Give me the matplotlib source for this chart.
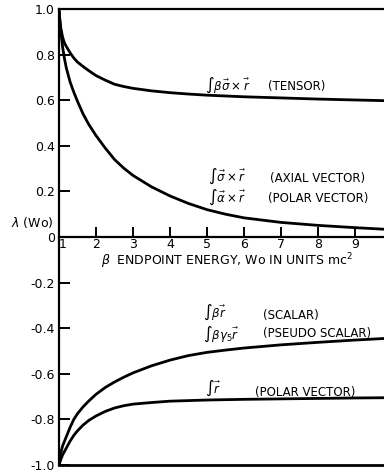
import matplotlib
matplotlib.use("Agg")
import matplotlib.pyplot as plt

# ---- data ----
w_tensor = [1.0, 1.02, 1.05, 1.1, 1.15, 1.2, 1.3, 1.4, 1.5, 1.65, 1.8, 2.0, 2.25, 2.5, 2.75, 3.0,
            3.5, 4.0, 4.5, 5.0, 6.0, 7.0, 8.0, 9.0, 9.8]
lam_tensor = [1.0, 0.955, 0.915, 0.875, 0.85, 0.835, 0.808, 0.785, 0.767, 0.748, 0.73, 0.708, 0.688,
              0.67, 0.66, 0.652, 0.641, 0.633, 0.627, 0.622, 0.615, 0.61, 0.605, 0.601, 0.598]

w_axial = [1.0, 1.02, 1.05, 1.1, 1.15, 1.2, 1.3, 1.4, 1.5, 1.65, 1.8, 2.0, 2.25, 2.5, 2.75, 3.0,
           3.5, 4.0, 4.5, 5.0, 5.5, 6.0, 7.0, 8.0, 9.0, 9.8]
lam_axial = [1.0, 0.955, 0.90, 0.83, 0.78, 0.74, 0.68, 0.635, 0.595, 0.54, 0.495, 0.445, 0.39,
             0.34, 0.302, 0.27, 0.22, 0.18, 0.147, 0.12, 0.1, 0.084, 0.064, 0.051, 0.041, 0.034]

w_scalar = [1.0, 1.02, 1.05, 1.1, 1.2, 1.3, 1.4, 1.5, 1.65, 1.8, 2.0, 2.25, 2.5, 2.75, 3.0,
            3.5, 4.0, 4.5, 5.0, 5.5, 6.0, 7.0, 8.0, 9.0, 9.8]
lam_scalar = [-1.0, -0.97, -0.945, -0.915, -0.875, -0.835, -0.8, -0.775, -0.745, -0.72, -0.69,
              -0.66, -0.636, -0.615, -0.596, -0.565, -0.54, -0.52, -0.506, -0.496, -0.487,
              -0.473, -0.462, -0.452, -0.445]

w_polar = [1.0, 1.05, 1.1, 1.2, 1.3, 1.4, 1.5, 1.65, 1.8, 2.0, 2.25, 2.5, 2.75, 3.0, 3.5, 4.0,
           5.0, 6.0, 7.0, 8.0, 9.0, 9.8]
lam_polar = [-1.0, -0.975, -0.955, -0.925, -0.895, -0.87, -0.85, -0.825, -0.805, -0.785, -0.765,
             -0.75, -0.74, -0.733, -0.726, -0.72, -0.715, -0.712, -0.71, -0.708, -0.706, -0.705]

x_ticks = [1, 2, 3, 4, 5, 6, 7, 8, 9]
x_ticklabels = ["1", "2", "3", "4", "5", "6", "7", "8", "9"]
y_ticks = [1.0, 0.8, 0.6, 0.4, 0.2, 0.0, -0.2, -0.4, -0.6, -0.8, -1.0]
y_ticklabels = ["1.0", "0.8", "0.6", "0.4", "0.2", "0", "-0.2", "-0.4", "-0.6", "-0.8", "-1.0"]

W, H = 384, 472
fig = plt.figure(figsize=(W / 100, H / 100), dpi=100)
ax = fig.add_axes([59 / W, 7 / H, (W - 59) / W, 456 / H])
ax.set_xlim(1.0, 1.0 + (W - 59) / 37.0)
ax.set_ylim(-1.0, 1.0)

lw = 2.0
for xs, ys in [(w_tensor, lam_tensor), (w_axial, lam_axial), (w_scalar, lam_scalar), (w_polar, lam_polar)]:
    ax.plot(xs, ys, color="black", lw=lw, solid_capstyle="round", solid_joinstyle="round")

# spines
ax.spines["right"].set_visible(False)
ax.spines["top"].set_linewidth(1.6)
ax.spines["left"].set_linewidth(1.6)
ax.spines["bottom"].set_position(("data", 0))
ax.spines["bottom"].set_linewidth(1.6)
ax.axhline(-1.0, color="black", lw=2.0, clip_on=False)

ax.set_xticks(x_ticks)
ax.set_xticklabels(x_ticklabels)
ax.set_yticks(y_ticks)
ax.set_yticklabels(y_ticklabels)
ax.tick_params(axis="x", direction="in", length=7, width=1.4, pad=1, labelsize=9)
ax.tick_params(axis="y", direction="in", length=8, width=1.4, pad=3, labelsize=9)
ax.get_xticklabels()[0].set_horizontalalignment("left")

# axis labels
fig.text(32 / W, 1 - 222 / H, r"$\lambda$ (Wo)", fontsize=9, ha="center", va="center")
ax.text(5.55, -0.105, r"$\beta$  ENDPOINT ENERGY, Wo IN UNITS mc$^2$", fontsize=9,
        ha="center", va="center")

fs_int = 8.5
fs_lab = 8.5
# annotations (top panel)
ax.text(4.95, 0.665, r"$\int\beta\vec{\sigma}\times\vec{r}$", fontsize=fs_int, ha="left", va="center")
ax.text(6.65, 0.662, "(TENSOR)", fontsize=fs_lab, ha="left", va="center")
ax.text(5.03, 0.268, r"$\int\vec{\sigma}\times\vec{r}$", fontsize=fs_int, ha="left", va="center")
ax.text(6.70, 0.255, "(AXIAL VECTOR)", fontsize=fs_lab, ha="left", va="center")
ax.text(5.03, 0.176, r"$\int\vec{\alpha}\times\vec{r}$", fontsize=fs_int, ha="left", va="center")
ax.text(6.65, 0.170, "(POLAR VECTOR)", fontsize=fs_lab, ha="left", va="center")

# annotations (bottom panel)
ax.text(4.89, -0.330, r"$\int\beta\vec{r}$", fontsize=fs_int, ha="left", va="center")
ax.text(6.51, -0.345, "(SCALAR)", fontsize=fs_lab, ha="left", va="center")
ax.text(4.89, -0.425, r"$\int\beta\gamma_5\vec{r}$", fontsize=fs_int, ha="left", va="center")
ax.text(6.51, -0.424, "(PSEUDO SCALAR)", fontsize=fs_lab, ha="left", va="center")
ax.text(4.95, -0.662, r"$\int\vec{r}$", fontsize=fs_int, ha="left", va="center")
ax.text(6.3, -0.68, "(POLAR VECTOR)", fontsize=fs_lab, ha="left", va="center")

fig.savefig("out.png", dpi=100)
